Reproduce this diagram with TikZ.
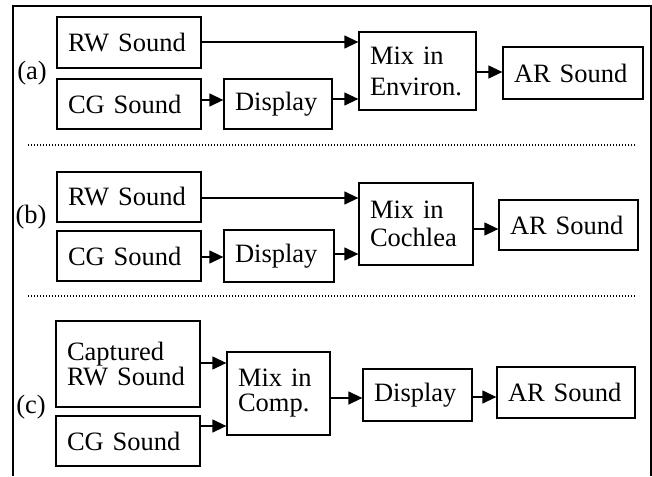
\documentclass[tikz,border=0pt]{standalone}
\usepackage{fontspec}
\setmainfont{Liberation Serif}
\usetikzlibrary{arrows.meta}
\tikzset{
  box/.style={draw, line width=1.3pt, inner xsep=11pt, inner ysep=0pt, align=left,
    font=\fontsize{26.5}{31}\selectfont},
  lbl/.style={inner sep=0pt, font=\fontsize{26.5}{31}\selectfont},
  arr/.style={line width=1.3pt, -{Triangle[length=14pt,width=13pt]}},
  sep/.style={line width=1.6pt, dash pattern=on 1.4pt off 1.6pt},
}
\begin{document}
\begin{tikzpicture}[x=1pt,y=-1pt]
\useasboundingbox (0,0) rectangle (652,476);
% frame
\draw[line width=2.6pt] (13,476) -- (13,6) -- (652,6);
\draw[line width=1.6pt] (651,6) -- (651,476);
% (a)
\node[lbl] (la) at (32,73) {(a)};
\node[box, minimum height=51pt, text width=122pt] (RWa) at (129,42.5) {RW Sound};
\node[box, minimum height=50pt, text width=122pt] (CGa) at (129,104) {CG Sound};
\node[box, minimum height=50pt, text width=86pt] (Da) at (278,104) {Display};
\node[box, minimum height=78pt, text width=95pt] (Ma) at (417.5,71) {Mix in\\Environ.};
\node[box, minimum height=52pt, text width=118pt] (ARa) at (573,73) {AR Sound};
\draw[arr] ([yshift=0.5pt]RWa.east) -- ([yshift=0.5pt]RWa.east -| Ma.west);
\draw[arr] ([yshift=4pt]CGa.east) -- ([yshift=4pt]CGa.east -| Da.west);
\draw[arr] ([yshift=5pt]Da.east) -- ([yshift=5pt]Da.east -| Ma.west);
\draw[arr] ([yshift=-1pt]Ma.east) -- ([yshift=-1pt]Ma.east -| ARa.west);
\coordinate (d1a) at (28,145);
\coordinate (d1b) at (636,145);
\draw[sep] (d1a) -- (d1b);
% (b)
\node[lbl] (lb) at (31,217) {(b)};
\node[box, minimum height=50pt, text width=122pt] (RWb) at (129,197) {RW Sound};
\node[box, minimum height=50pt, text width=122pt] (CGb) at (129,256) {CG Sound};
\node[box, minimum height=52pt, text width=88pt] (Db) at (279,256) {Display};
\node[box, minimum height=82pt, text width=92pt] (Mb) at (416,224) {Mix in\\[-3pt]Cochlea};
\node[box, minimum height=50pt, text width=117pt] (ARb) at (568.5,225) {AR Sound};
\draw[arr] ([yshift=-1pt]RWb.east) -- ([yshift=-1pt]RWb.east -| Mb.west);
\draw[arr] ([yshift=-1pt]CGb.east) -- ([yshift=-1pt]CGb.east -| Db.west);
\draw[arr] ([yshift=2pt]Db.east) -- ([yshift=2pt]Db.east -| Mb.west);
\draw[arr] ([yshift=-5pt]Mb.east) -- ([yshift=-5pt]Mb.east -| ARb.west);
\coordinate (d2a) at (28,296);
\coordinate (d2b) at (636,296);
\draw[sep] (d2a) -- (d2b);
% (c)
\node[lbl] (lc) at (31,407) {(c)};
\node[box, minimum height=86pt, text width=122pt] (Cap) at (128,364) {Captured\\[-6pt]RW Sound};
\node[box, minimum height=50pt, text width=122pt] (CGc) at (128,441) {CG Sound};
\node[box, minimum height=83pt, text width=81pt] (Mc) at (278.5,393.5) {Mix in\\[-6pt]Comp.};
\node[box, minimum height=52pt, text width=87pt] (Dc) at (417.5,395) {Display};
\node[box, minimum height=51pt, text width=116pt] (ARc) at (566,392.5) {AR Sound};
\draw[arr] ([yshift=1pt]Cap.east) -- ([yshift=1pt]Cap.east -| Mc.west);
\draw[arr] ([yshift=15pt]CGc.east) -- ([yshift=15pt]CGc.east -| Mc.west);
\draw[arr] ([yshift=-4.5pt]Mc.east) -- ([yshift=-4.5pt]Mc.east -| Dc.west);
\draw[arr] ([yshift=-2pt]Dc.east) -- ([yshift=-2pt]Dc.east -| ARc.west);
\end{tikzpicture}
\end{document}
